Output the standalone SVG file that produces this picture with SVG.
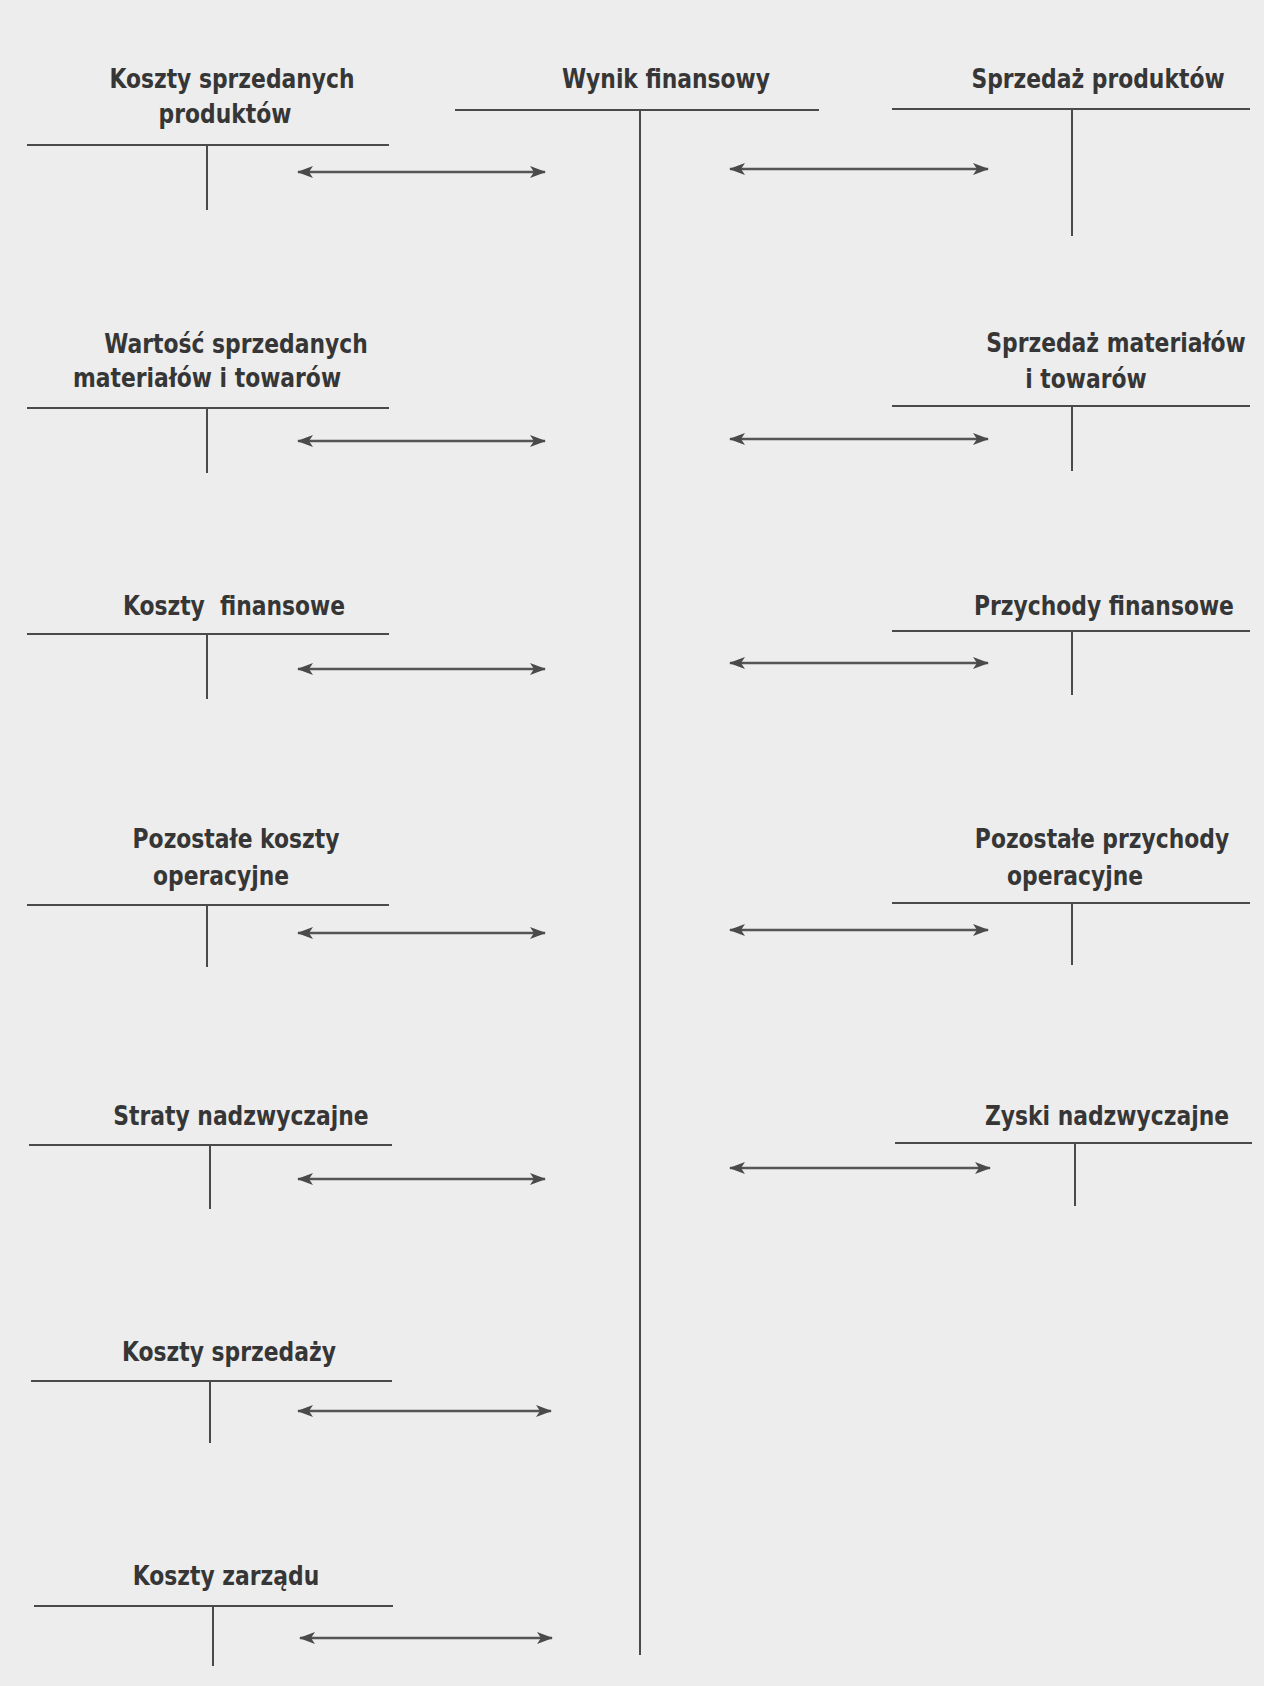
<svg xmlns="http://www.w3.org/2000/svg" width="1264" height="1686" viewBox="0 0 1264 1686">
<style>
.t{font-family:"DejaVu Sans Condensed","DejaVu Sans","Liberation Sans",sans-serif;font-stretch:condensed;font-weight:bold;font-size:27px;fill:#363636;text-anchor:middle}
.ln{stroke:#4a4a4a;stroke-width:2;fill:none}
.ar{stroke:#555;stroke-width:2.5;fill:none;marker-start:url(#ah);marker-end:url(#ah)}
</style>
<defs>
<marker id="ah" viewBox="0 0 16 12" refX="15" refY="6" markerWidth="16" markerHeight="12" markerUnits="userSpaceOnUse" orient="auto-start-reverse">
<path d="M0,0 L16,6 L0,12 L4,6 Z" fill="#4a4a4a"/>
</marker>
</defs>
<rect width="1264" height="1686" fill="#ededed"/>

<g id="wynik">
<text class="t" transform="translate(666 88) scale(0.9 1)">Wynik finansowy</text>
<line class="ln" x1="455" y1="110" x2="819" y2="110"/>
<line class="ln" x1="640" y1="110" x2="640" y2="1655"/>
</g>

<g id="koszty-sprzedanych">
<text class="t" transform="translate(232 88) scale(0.9 1)">Koszty sprzedanych</text>
<text class="t" transform="translate(225 123) scale(0.9 1)">produktów</text>
<line class="ln" x1="27" y1="145" x2="389" y2="145"/>
<line class="ln" x1="207" y1="145" x2="207" y2="210"/>
</g>

<g id="wartosc">
<text class="t" transform="translate(236 353) scale(0.9 1)">Wartość sprzedanych</text>
<text class="t" transform="translate(207 387) scale(0.9 1)">materiałów i towarów</text>
<line class="ln" x1="27" y1="408" x2="389" y2="408"/>
<line class="ln" x1="207" y1="408" x2="207" y2="473"/>
</g>

<g id="koszty-finansowe">
<text class="t" transform="translate(234 615) scale(0.9 1)" xml:space="preserve">Koszty  finansowe</text>
<line class="ln" x1="27" y1="634" x2="389" y2="634"/>
<line class="ln" x1="207" y1="634" x2="207" y2="699"/>
</g>

<g id="pozostale-koszty">
<text class="t" transform="translate(236 848) scale(0.9 1)">Pozostałe koszty</text>
<text class="t" transform="translate(221 885) scale(0.9 1)">operacyjne</text>
<line class="ln" x1="27" y1="905" x2="389" y2="905"/>
<line class="ln" x1="207" y1="905" x2="207" y2="967"/>
</g>

<g id="straty">
<text class="t" transform="translate(241 1125) scale(0.9 1)">Straty nadzwyczajne</text>
<line class="ln" x1="29" y1="1145" x2="392" y2="1145"/>
<line class="ln" x1="210" y1="1145" x2="210" y2="1209"/>
</g>

<g id="koszty-sprzedazy">
<text class="t" transform="translate(229 1361) scale(0.9 1)">Koszty sprzedaży</text>
<line class="ln" x1="31" y1="1381" x2="392" y2="1381"/>
<line class="ln" x1="210" y1="1381" x2="210" y2="1443"/>
</g>

<g id="koszty-zarzadu">
<text class="t" transform="translate(226 1585) scale(0.9 1)">Koszty zarządu</text>
<line class="ln" x1="34" y1="1606" x2="393" y2="1606"/>
<line class="ln" x1="213" y1="1606" x2="213" y2="1666"/>
</g>

<g id="sprzedaz-produktow">
<text class="t" transform="translate(1098 88) scale(0.9 1)">Sprzedaż produktów</text>
<line class="ln" x1="892" y1="109" x2="1250" y2="109"/>
<line class="ln" x1="1072" y1="109" x2="1072" y2="236"/>
</g>

<g id="sprzedaz-materialow">
<text class="t" transform="translate(1116 352) scale(0.9 1)">Sprzedaż materiałów</text>
<text class="t" transform="translate(1086 388) scale(0.9 1)">i towarów</text>
<line class="ln" x1="892" y1="406" x2="1250" y2="406"/>
<line class="ln" x1="1072" y1="406" x2="1072" y2="471"/>
</g>

<g id="przychody-finansowe">
<text class="t" transform="translate(1104 615) scale(0.9 1)">Przychody finansowe</text>
<line class="ln" x1="892" y1="631" x2="1250" y2="631"/>
<line class="ln" x1="1072" y1="631" x2="1072" y2="695"/>
</g>

<g id="pozostale-przychody">
<text class="t" transform="translate(1102 848) scale(0.9 1)">Pozostałe przychody</text>
<text class="t" transform="translate(1075 885) scale(0.9 1)">operacyjne</text>
<line class="ln" x1="892" y1="903" x2="1250" y2="903"/>
<line class="ln" x1="1072" y1="903" x2="1072" y2="965"/>
</g>

<g id="zyski">
<text class="t" transform="translate(1107 1125) scale(0.9 1)">Zyski nadzwyczajne</text>
<line class="ln" x1="895" y1="1143" x2="1252" y2="1143"/>
<line class="ln" x1="1075" y1="1143" x2="1075" y2="1206"/>
</g>

<g id="connectors">
<line class="ar" x1="298" y1="172" x2="545" y2="172"/>
<line class="ar" x1="298" y1="441" x2="545" y2="441"/>
<line class="ar" x1="298" y1="669" x2="545" y2="669"/>
<line class="ar" x1="298" y1="933" x2="545" y2="933"/>
<line class="ar" x1="298" y1="1179" x2="545" y2="1179"/>
<line class="ar" x1="298" y1="1411" x2="551" y2="1411"/>
<line class="ar" x1="300" y1="1638" x2="552" y2="1638"/>
<line class="ar" x1="730" y1="169" x2="988" y2="169"/>
<line class="ar" x1="730" y1="439" x2="988" y2="439"/>
<line class="ar" x1="730" y1="663" x2="988" y2="663"/>
<line class="ar" x1="730" y1="930" x2="988" y2="930"/>
<line class="ar" x1="730" y1="1168" x2="990" y2="1168"/>
</g>
</svg>
